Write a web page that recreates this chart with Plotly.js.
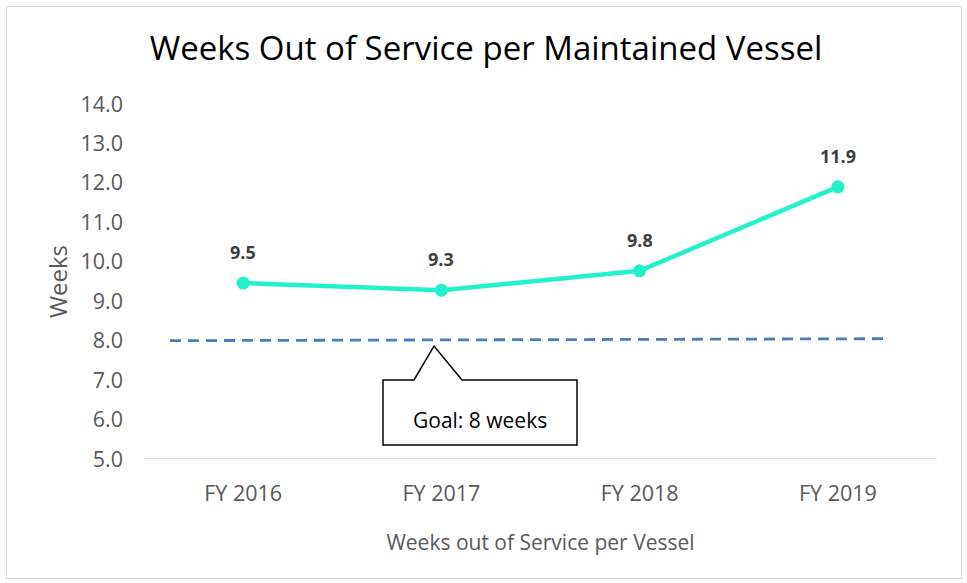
<!DOCTYPE html>
<html>
<head>
<meta charset="utf-8">
<script src="https://cdn.plot.ly/plotly-3.0.1.min.js"></script>
<style>
html,body{margin:0;padding:0;background:#fff;}
#chart{width:967px;height:583px;}
#frame{position:absolute;left:6px;top:6px;width:954px;height:571px;border:1px solid #d9d9d9;pointer-events:none;}
</style>
</head>
<body>
<div id="chart"></div>
<div id="frame"></div>
<script>
const categories = ["FY 2016", "FY 2017", "FY 2018", "FY 2019"];
const weeks = [9.46, 9.28, 9.77, 11.9];
const dataLabels = ["9.5", "9.3", "9.8", "11.9"];
const goalWeeks = 8;
const goalText = "Goal: 8 weeks";

const L = 144, R = 937, T = 104, B = 459;
const px = v => (v - L) / (R - L);
const py = v => (B - v) / (B - T);
const FONT = "Open Sans, sans-serif";

const trace = {
  x: categories,
  y: weeks,
  type: "scatter",
  mode: "lines+markers",
  line: {color: "#22F2CB", width: 4.5},
  marker: {color: "#22F2CB", size: 13},
  cliponaxis: false,
  hoverinfo: "skip"
};

const labelAnns = categories.map((c, i) => ({
  x: c, y: weeks[i], xref: "x", yref: "y", text: dataLabels[i], showarrow: false,
  yshift: 31, font: {family: FONT, size: 18, color: "#404040", weight: "bold"}
}));

const calloutPath = `M ${px(383)},${py(380)} L ${px(414)},${py(380)} L ${px(434)},${py(346)} L ${px(462)},${py(380)} L ${px(577)},${py(380)} L ${px(577)},${py(445)} L ${px(383)},${py(445)} Z`;

const layout = {
  width: 967, height: 583,
  margin: {l: L, r: 967 - R, t: T, b: 583 - B},
  paper_bgcolor: "#fff", plot_bgcolor: "#fff",
  showlegend: false,
  title: {text: "Weeks Out of Service per Maintained Vessel", x: 486 / 967, xref: "container", xanchor: "center",
          y: 1 - 48 / 583, yref: "container", yanchor: "middle",
          font: {family: FONT, size: 33, color: "#000"}},
  xaxis: {
    type: "category", range: [-0.5, 3.5], showgrid: false, zeroline: false,
    showline: false, ticks: "", ticklabelstandoff: 19,
    tickfont: {family: FONT, size: 21.5, color: "#595959"},
    title: {text: "Weeks out of Service per Vessel", standoff: 29, font: {family: FONT, size: 21, color: "#595959"}}
  },
  yaxis: {
    range: [5, 14], dtick: 1, tickformat: ".1f", showgrid: false, zeroline: false,
    showline: false, ticks: "", ticklabelstandoff: 20,
    tickfont: {family: FONT, size: 21.5, color: "#595959"},
    title: {text: "Weeks", standoff: 6, font: {family: FONT, size: 24, color: "#595959"}}
  },
  shapes: [
    {type: "line", xref: "paper", yref: "y", x0: 0, x1: 1, y0: 5, y1: 5, line: {color: "#d9d9d9", width: 1.3}, layer: "below"},
    {type: "line", xref: "paper", yref: "y", x0: px(170), x1: px(886), y0: goalWeeks, y1: goalWeeks + 0.05,
     line: {color: "#4a7ebb", width: 2.8, dash: "11px,7px"}},
    {type: "path", xref: "paper", yref: "paper", path: calloutPath, fillcolor: "#fff", line: {color: "#000", width: 1.5}}
  ],
  annotations: labelAnns.concat([
    {xref: "paper", yref: "paper", x: px(480), y: py(420), xanchor: "center", yanchor: "middle", text: goalText, showarrow: false,
     font: {family: FONT, size: 21, color: "#000"}}
  ])
};

Plotly.newPlot("chart", [trace], layout, {displayModeBar: false, staticPlot: true});
</script>
</body>
</html>
